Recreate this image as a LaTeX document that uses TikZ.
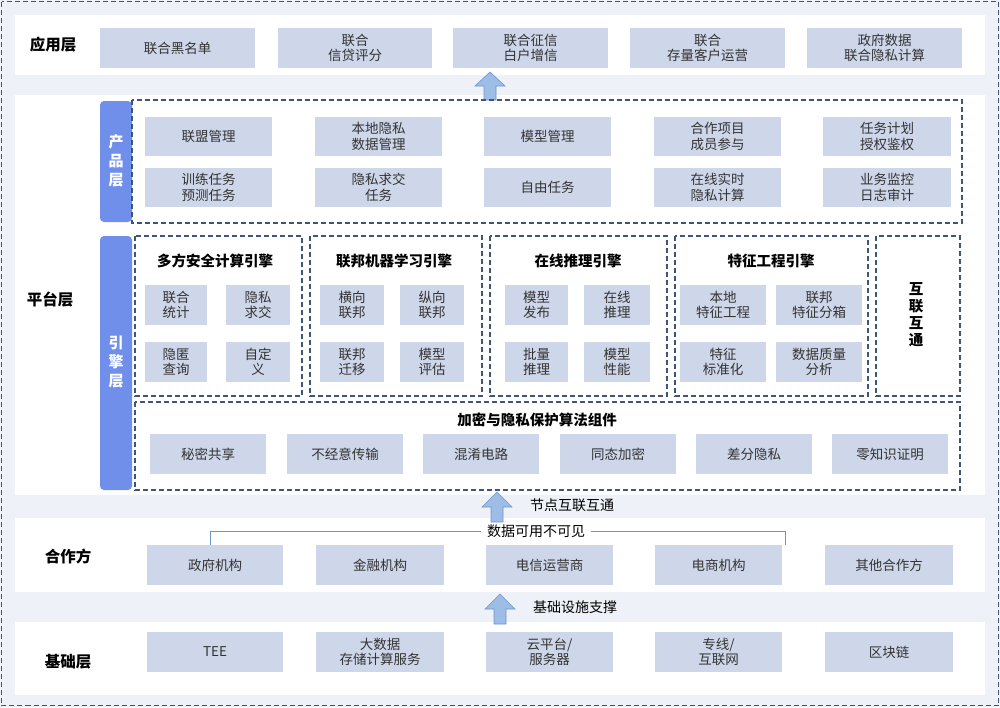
\documentclass[tikz,border=0pt]{standalone}
\usepackage{fontspec}
\setmainfont{Noto Sans CJK SC}
\begin{document}
\definecolor{bg}{HTML}{EEF2F8}
\definecolor{bx}{HTML}{CED6E9}
\definecolor{bar}{HTML}{6F8FEA}
\definecolor{dsh}{HTML}{3E5578}
\definecolor{arr}{HTML}{9DBDE6}
\definecolor{arrb}{HTML}{6E95D0}
\begin{tikzpicture}[x=1pt,y=-1pt,
 box/.style={fill=bx,draw=none,align=center,font=\fontsize{13.5}{15.5}\selectfont,text=black!80,inner sep=0pt},
 lay/.style={font=\fontsize{15.5}{18}\selectfont\bfseries,text=black},
 dbox/.style={draw=dsh,line width=1.2pt,dash pattern=on 5pt off 3pt},
 vbar/.style={fill=bar,rounded corners=4pt,draw=none},
 vtxt/.style={text=white,font=\fontsize{15}{19}\selectfont\bfseries,align=center},
 ttl/.style={font=\fontsize{14.5}{17}\selectfont\bfseries},
 lbl/.style={font=\fontsize{14}{16}\selectfont},
 up/.style={fill=arr,draw=arrb,line width=0.6pt}]
\useasboundingbox (0,0) rectangle (1000,707);
\fill[bg] (0,0) rectangle (1000,707);
\draw[dbox] (1.5,1.5) rectangle (998.5,705.5);
% bands
\fill[white] (15,15) rectangle (985,75);
\fill[white] (15,95) rectangle (985,495);
\fill[white] (15,518) rectangle (985,592);
\fill[white] (15,622) rectangle (985,695);
\newcommand{\bb}[6]{\node[box,minimum width=#4-#2,minimum height=#5-#3] (#1) at ({(#2+#4)/2},{(#3+#5)/2}) {#6};}
% app
\node[lay] (la) at (53,45) {应用层};
\bb{a1}{100}{28}{255}{68}{联合黑名单}
\bb{a2}{278}{28}{432}{68}{联合\\信贷评分}
\bb{a3}{453}{28}{608}{68}{联合征信\\白户增信}
\bb{a4}{630}{28}{785}{68}{联合\\存量客户运营}
\bb{a5}{807}{28}{962}{68}{政府数据\\联合隐私计算}
\draw[up] (484,100)--(484,86)--(475,86)--(490,72)--(505,86)--(496,86)--(496,100)--cycle;
% platform
\node[lay] (lp) at (50,300) {平台层};
\fill[vbar] (100,101) rectangle (132,222);
\node[vtxt] (vp) at (116,161) {产\\品\\层};
\draw[dbox] (132,100) rectangle (962,223);
\bb{p1}{145}{117}{272}{156}{联盟管理}
\bb{p2}{315}{117}{442}{156}{本地隐私\\数据管理}
\bb{p3}{484}{117}{611}{156}{模型管理}
\bb{p4}{654}{117}{781}{156}{合作项目\\成员参与}
\bb{p5}{823}{117}{951}{156}{任务计划\\授权鉴权}
\bb{q1}{145}{168}{272}{207}{训练任务\\预测任务}
\bb{q2}{315}{168}{442}{207}{隐私求交\\任务}
\bb{q3}{484}{168}{611}{207}{自由任务}
\bb{q4}{654}{168}{781}{207}{在线实时\\隐私计算}
\bb{q5}{823}{168}{951}{207}{业务监控\\日志审计}
\fill[vbar] (100,236) rectangle (132,490);
\node[vtxt] (ve) at (116,362) {引\\擎\\层};
\draw[dbox] (135,236) rectangle (302,396);
\draw[dbox] (310,236) rectangle (482,396);
\draw[dbox] (490,236) rectangle (667,396);
\draw[dbox] (675,236) rectangle (868,396);
\draw[dbox] (876,236) rectangle (960,396);
\node[ttl] (t1) at (215,261) {多方安全计算引擎};
\node[ttl] (t2) at (394,261) {联邦机器学习引擎};
\node[ttl] (t3) at (578,261) {在线推理引擎};
\node[ttl] (t4) at (771,261) {特征工程引擎};
\node[ttl,align=center] (t5) at (916,315) {互\\联\\互\\通};
\bb{e11}{145}{285}{207}{325}{联合\\统计}
\bb{e12}{226}{285}{290}{325}{隐私\\求交}
\bb{e13}{145}{342}{207}{382}{隐匿\\查询}
\bb{e14}{226}{342}{290}{382}{自定\\义}
\bb{e21}{320}{285}{384}{325}{横向\\联邦}
\bb{e22}{400}{285}{464}{325}{纵向\\联邦}
\bb{e23}{320}{342}{384}{382}{联邦\\迁移}
\bb{e24}{400}{342}{464}{382}{模型\\评估}
\bb{e31}{505}{285}{568}{325}{模型\\发布}
\bb{e32}{584}{285}{650}{325}{在线\\推理}
\bb{e33}{505}{342}{568}{382}{批量\\推理}
\bb{e34}{584}{342}{650}{382}{模型\\性能}
\bb{e41}{680}{285}{766}{325}{本地\\特征工程}
\bb{e42}{776}{285}{862}{325}{联邦\\特征分箱}
\bb{e43}{680}{342}{766}{382}{特征\\标准化}
\bb{e44}{776}{342}{862}{382}{数据质量\\分析}
\draw[dbox] (135,402) rectangle (960,490);
\node[ttl] (tc) at (537,420) {加密与隐私保护算法组件};
\bb{c1}{150}{434}{266}{474}{秘密共享}
\bb{c2}{287}{434}{403}{474}{不经意传输}
\bb{c3}{423}{434}{539}{474}{混淆电路}
\bb{c4}{560}{434}{676}{474}{同态加密}
\bb{c5}{696}{434}{812}{474}{差分隐私}
\bb{c6}{832}{434}{948}{474}{零知识证明}
\draw[up] (491,522)--(491,507)--(482,507)--(497,492)--(512,507)--(503,507)--(503,522)--cycle;
\node[lbl] (n1) at (572,505) {节点互联互通};
% partners
\node[lay] (lh) at (68,557) {合作方};
\coordinate (l1) at (210,545); \coordinate (l2) at (210,531);
\coordinate (r1) at (785,545); \coordinate (r2) at (785,531);
\draw[draw=arrb,line width=0.8pt] (l1)--(l2)--(r2)--(r1);
\node[fill=white,lbl,inner xsep=6pt,inner ysep=1pt] (dv) at (536,531) {数据可用不可见};
\bb{h1}{147}{545}{283}{585}{政府机构}
\bb{h2}{316}{545}{444}{585}{金融机构}
\bb{h3}{486}{545}{613}{585}{电信运营商}
\bb{h4}{655}{545}{782}{585}{电商机构}
\bb{h5}{825}{545}{953}{585}{其他合作方}
\draw[up] (494,624)--(494,609)--(485,609)--(500,594)--(515,609)--(506,609)--(506,624)--cycle;
\node[lbl] (n2) at (575,607) {基础设施支撑};
% base
\node[lay] (lb) at (68,662) {基础层};
\bb{b1}{147}{632}{283}{672}{TEE}
\bb{b2}{316}{632}{444}{672}{大数据\\存储计算服务}
\bb{b3}{486}{632}{613}{672}{云平台/\\服务器}
\bb{b4}{655}{632}{782}{672}{专线/\\互联网}
\bb{b5}{825}{632}{953}{672}{区块链}
\end{tikzpicture}
\end{document}
